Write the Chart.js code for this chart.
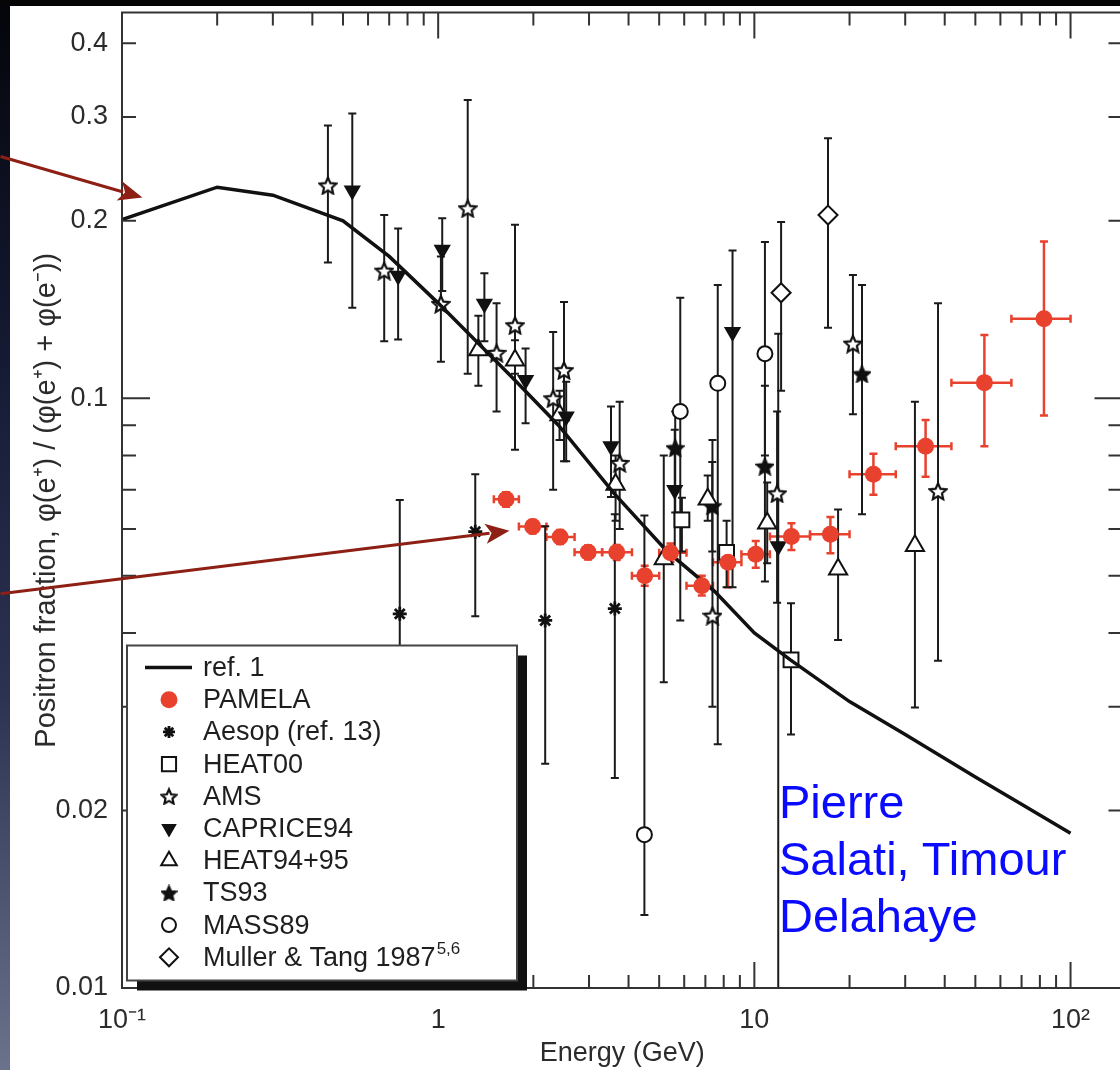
<!DOCTYPE html>
<html>
<head>
<meta charset="utf-8">
<script src="https://cdn.jsdelivr.net/npm/chart.js@4.4.1/dist/chart.umd.min.js"></script>
<style>
html, body { margin: 0; padding: 0; overflow: hidden; background: #fff; }
#wrap { position: relative; width: 1135px; height: 1070px; }
#names { position: absolute; left: 779px; top: 773px; font: 47px "Liberation Sans", Arial, sans-serif; line-height: 57px; color: #0a0aff; }
</style>
</head>
<body>
<div id="wrap">
  <canvas id="positron" width="1135" height="1070"></canvas>
  <div id="names">Pierre<br>Salati, Timour<br>Delahaye</div>
</div>
<script>
// model curve (ref. 1)
const refE = [0.1, 0.2, 0.3, 0.5, 0.7, 1.0, 1.7, 2.4, 3.6, 5.3, 7.5, 10, 13, 20, 30, 50, 70, 100];
const refF = [0.201, 0.228, 0.221, 0.200, 0.174, 0.145, 0.109, 0.090, 0.069, 0.055, 0.047, 0.040, 0.036, 0.0306, 0.0269, 0.0228, 0.0205, 0.0183];

// PAMELA
const pamE = [1.64, 1.99, 2.43, 2.98, 3.67, 4.50, 5.43, 6.82, 8.26, 10.1, 13.1, 17.4, 23.8, 34.8, 53.4, 82.4];
const pamF = [0.0674, 0.0606, 0.0582, 0.0548, 0.0548, 0.0500, 0.0547, 0.0481, 0.0527, 0.0544, 0.0583, 0.0588, 0.0743, 0.0829, 0.1063, 0.1364];
const pamELo = [1.5, 1.8, 2.2, 2.7, 3.3, 4.1, 5.0, 6.1, 7.4, 9.1, 11.2, 15, 20, 28, 42, 65];
const pamEHi = [1.8, 2.2, 2.7, 3.3, 4.1, 5.0, 6.1, 7.4, 9.1, 11.2, 15, 20, 28, 42, 65, 100];
const pamFLo = [0.0655, 0.0590, 0.0566, 0.0533, 0.0532, 0.0481, 0.0528, 0.0463, 0.0478, 0.0516, 0.0553, 0.0546, 0.0686, 0.0736, 0.0829, 0.0935];
const pamFHi = [0.0693, 0.0622, 0.0598, 0.0563, 0.0564, 0.0520, 0.0567, 0.0500, 0.0555, 0.0573, 0.0614, 0.0629, 0.0805, 0.0919, 0.1280, 0.1845];

// Aesop (ref. 13)
const aesE = [0.756, 1.31, 2.18, 3.62];
const aesF = [0.0431, 0.0594, 0.0420, 0.0440];
const aesLo = [0.025, 0.0427, 0.024, 0.0227];
const aesHi = [0.0672, 0.0743, 0.0607, 0.0636];

// HEAT00
const h00E = [5.9, 8.17, 13.06];
const h00F = [0.0622, 0.0548, 0.0360];
const h00Lo = [0.055, 0.0478, 0.0269];
const h00Hi = [0.0678, 0.062, 0.0449];

// AMS
const amsE = [0.448, 0.675, 1.02, 1.24, 1.53, 1.75, 2.31, 2.50, 3.75, 7.37, 11.8, 20.5, 38.1];
const amsF = [0.2296, 0.1646, 0.1446, 0.210, 0.1194, 0.133, 0.100, 0.1116, 0.0777, 0.0428, 0.069, 0.1238, 0.0696];
const amsLo = [0.170, 0.125, 0.1153, 0.110, 0.095, 0.110, 0.070, 0.0782, 0.060, 0.030, 0.045, 0.094, 0.0359];
const amsHi = [0.290, 0.2045, 0.174, 0.3206, 0.1449, 0.197, 0.1296, 0.1456, 0.0987, 0.085, 0.095, 0.1618, 0.1449];

// CAPRICE94
const capE = [0.535, 0.747, 1.03, 1.40, 1.89, 2.54, 3.52, 5.60, 8.53, 11.9];
const capF = [0.225, 0.1614, 0.1786, 0.1446, 0.1074, 0.0931, 0.0829, 0.0699, 0.1296, 0.0561];
const capLo = [0.1424, 0.1258, 0.152, 0.125, 0.0907, 0.0782, 0.068, 0.055, 0.0478, 0.005];
const capHi = [0.304, 0.194, 0.202, 0.163, 0.1215, 0.1067, 0.0968, 0.0884, 0.178, 0.1287];

// HEAT94+95
const h95E = [1.34, 1.75, 2.42, 3.64, 5.17, 7.12, 10.98, 18.4, 32.2];
const h95F = [0.1207, 0.116, 0.0937, 0.0714, 0.0534, 0.0674, 0.0614, 0.0513, 0.0562];
const h95Lo = [0.105, 0.0818, 0.085, 0.062, 0.033, 0.062, 0.0525, 0.0389, 0.0299];
const h95Hi = [0.138, 0.1254, 0.103, 0.080, 0.080, 0.074, 0.072, 0.0648, 0.0987];

// TS93
const tsE = [5.62, 7.36, 10.8, 21.9];
const tsF = [0.0824, 0.0657, 0.0767, 0.110];
const tsLo = [0.064, 0.055, 0.0489, 0.0636];
const tsHi = [0.095, 0.078, 0.105, 0.1557];

// MASS89
const masE = [4.49, 5.83, 7.66, 10.8];
const masF = [0.0182, 0.095, 0.106, 0.119];
const masLo = [0.0133, 0.042, 0.0259, 0.080];
const masHi = [0.0633, 0.148, 0.1557, 0.184];

// Muller & Tang 1987
const mulE = [12.15, 17.1];
const mulF = [0.151, 0.2045];
const mulLo = [0.103, 0.1317];
const mulHi = [0.199, 0.276];

const xTickVals = [0.1, 1, 10, 100];
const xTickLabels = ['10\u207B\u00B9', '1', '10', '10\u00B2'];
const yTickVals = [0.01, 0.02, 0.1, 0.2, 0.3, 0.4];
const yTickLabels = ['0.01', '0.02', '0.1', '0.2', '0.3', '0.4'];

// slide arrows: [tailE, tailF] -> [tipE, tipF]
const arrowTails = [[0.0413, 0.257], [0.0413, 0.0466]];
const arrowTips = [[0.116, 0.219], [1.68, 0.0596]];

const FONT = '"Liberation Sans", Arial, Helvetica, sans-serif';
const INK = '#2b2b2b';
const RED = '#e8412d';

function starImage(size, filled) {
    const c = document.createElement('canvas');
    c.width = c.height = size;
    const g = c.getContext('2d');
    const m = size / 2, R = size / 2 - 1.2, r = R * 0.47;
    g.beginPath();
    for (let i = 0; i < 10; i++) {
        const a = -Math.PI / 2 + i * Math.PI / 5;
        const rr = i % 2 ? r : R;
        g.lineTo(m + rr * Math.cos(a), m + rr * Math.sin(a) + 1);
    }
    g.closePath();
    g.fillStyle = filled ? '#111' : '#fff';
    g.fill();
    g.lineWidth = 2.2;
    g.strokeStyle = '#111';
    g.stroke();
    return c;
}

function pts(E, F, lo, hi) {
    return E.map((e, i) => ({ x: e, y: F[i], yMin: lo[i], yMax: hi[i] }));
}

function markers(label, data, style, more) {
    return Object.assign({
        label: label,
        data: data,
        pointStyle: style,
        pointRadius: 7,
        borderColor: '#111',
        backgroundColor: '#fff',
        borderWidth: 2,
        errColor: '#1a1a1a',
        order: 2
    }, more || {});
}

const datasets = [
    {
        label: 'ref. 1',
        data: refE.map((e, i) => ({ x: e, y: refF[i] })),
        showLine: true,
        borderColor: '#111',
        borderWidth: 3.5,
        pointRadius: 0,
        tension: 0,
        order: 1
    },
    {
        label: 'PAMELA',
        data: pamE.map((e, i) => ({ x: e, y: pamF[i], xMin: pamELo[i], xMax: pamEHi[i], yMin: pamFLo[i], yMax: pamFHi[i] })),
        pointStyle: 'circle',
        pointRadius: 8.5,
        backgroundColor: RED,
        borderColor: RED,
        borderWidth: 0,
        errColor: RED,
        errWidth: 2.5,
        legendRadius: 8.5,
        order: 0
    },
    markers('Aesop (ref. 13)', pts(aesE, aesF, aesLo, aesHi), 'star', { pointRadius: 7, borderWidth: 2.8, legendRadius: 6 }),
    markers('HEAT00', pts(h00E, h00F, h00Lo, h00Hi), 'rect', { pointRadius: 10.5, legendRadius: 10 }),
    markers('AMS', pts(amsE, amsF, amsLo, amsHi), starImage(20, false), { legendStyle: starImage(18, false) }),
    markers('CAPRICE94', pts(capE, capF, capLo, capHi), 'triangle', { pointRadius: 8, pointRotation: 180, backgroundColor: '#111', legendRadius: 7 }),
    markers('HEAT94+95', pts(h95E, h95F, h95Lo, h95Hi), 'triangle', { pointRadius: 10.5, legendRadius: 9 }),
    markers('TS93', pts(tsE, tsF, tsLo, tsHi), starImage(19, true), { legendStyle: starImage(17, true) }),
    markers('MASS89', pts(masE, masF, masLo, masHi), 'circle', { pointRadius: 7.5, legendRadius: 7 }),
    markers('Muller & Tang 1987', pts(mulE, mulF, mulLo, mulHi), 'rectRot', { pointRadius: 9.5, legendRadius: 9, sup: '5,6' })
];

// white page, dark slide edges
const slideEdges = {
    id: 'slideEdges',
    beforeDraw(chart) {
        const ctx = chart.ctx;
        ctx.save();
        ctx.fillStyle = '#fff';
        ctx.fillRect(0, 0, chart.width, chart.height);
        const g = ctx.createLinearGradient(0, 0, 0, chart.height);
        g.addColorStop(0, '#04050a');
        g.addColorStop(0.35, '#161b36');
        g.addColorStop(0.65, '#2c3352');
        g.addColorStop(1, '#6b728c');
        ctx.fillStyle = g;
        ctx.fillRect(0, 0, 10, chart.height);
        ctx.fillStyle = '#050505';
        ctx.fillRect(0, 0, chart.width, 6);
        ctx.restore();
    }
};

const errorBars = {
    id: 'errorBars',
    beforeDatasetsDraw(chart) {
        const { ctx, chartArea: a, scales: { x, y } } = chart;
        ctx.save();
        ctx.beginPath();
        ctx.rect(a.left, a.top, a.right - a.left, a.bottom - a.top);
        ctx.clip();
        chart.data.datasets.forEach(ds => {
            if (!ds.errColor) return;
            ctx.strokeStyle = ds.errColor;
            ctx.lineWidth = ds.errWidth || 2;
            ds.data.forEach(p => {
                const px = x.getPixelForValue(p.x), py = y.getPixelForValue(p.y);
                ctx.beginPath();
                if (p.yMin != null) {
                    const y1 = y.getPixelForValue(p.yMin), y2 = y.getPixelForValue(p.yMax);
                    ctx.moveTo(px, y1); ctx.lineTo(px, y2);
                    ctx.moveTo(px - 4, y1); ctx.lineTo(px + 4, y1);
                    ctx.moveTo(px - 4, y2); ctx.lineTo(px + 4, y2);
                }
                if (p.xMin != null) {
                    const x1 = x.getPixelForValue(p.xMin), x2 = x.getPixelForValue(p.xMax);
                    ctx.moveTo(x1, py); ctx.lineTo(x2, py);
                    ctx.moveTo(x1, py - 4); ctx.lineTo(x1, py + 4);
                    ctx.moveTo(x2, py - 4); ctx.lineTo(x2, py + 4);
                }
                ctx.stroke();
            });
        });
        ctx.restore();
    }
};

// box with inward ticks on all four sides
const frame = {
    id: 'frame',
    afterDatasetsDraw(chart) {
        const { ctx, chartArea: a, scales: { x, y } } = chart;
        ctx.save();
        ctx.strokeStyle = '#333';
        ctx.lineWidth = 2;
        ctx.strokeRect(a.left, a.top, a.right - a.left, a.bottom - a.top);
        ctx.beginPath();
        for (let k = -1; k <= 2; k++) {
            for (let m = 1; m <= 9; m++) {
                const v = m * Math.pow(10, k);
                if (v < x.min || v > x.max) continue;
                const px = x.getPixelForValue(v);
                const len = m === 1 ? 26 : 13;
                ctx.moveTo(px, a.bottom); ctx.lineTo(px, a.bottom - len);
                ctx.moveTo(px, a.top); ctx.lineTo(px, a.top + len);
            }
        }
        [0.02, 0.03, 0.04, 0.05, 0.06, 0.07, 0.08, 0.09, 0.1, 0.2, 0.3, 0.4].forEach(v => {
            const py = y.getPixelForValue(v);
            const len = v === 0.1 ? 28 : 14;
            ctx.moveTo(a.left, py); ctx.lineTo(a.left + len, py);
            ctx.moveTo(a.right, py); ctx.lineTo(a.right - len, py);
        });
        ctx.stroke();
        ctx.restore();
    }
};

const boxLegend = {
    id: 'boxLegend',
    afterDraw(chart) {
        const { ctx, chartArea: a } = chart;
        const L = a.left + 5, T = a.top + 633, W = 390, H = 335;
        ctx.save();
        ctx.fillStyle = '#111';
        ctx.fillRect(L + 10, T + 10, W, H);
        ctx.fillStyle = '#fff';
        ctx.fillRect(L, T, W, H);
        ctx.strokeStyle = '#444';
        ctx.lineWidth = 2;
        ctx.strokeRect(L, T, W, H);
        const sx = L + 42, tx = L + 76;
        chart.data.datasets.forEach((ds, i) => {
            const cy = T + 22 + i * 32.2;
            if (ds.showLine) {
                ctx.strokeStyle = '#111';
                ctx.lineWidth = 3.5;
                ctx.beginPath(); ctx.moveTo(sx - 24, cy); ctx.lineTo(sx + 23, cy); ctx.stroke();
            } else {
                ctx.fillStyle = ds.backgroundColor;
                ctx.strokeStyle = ds.borderColor;
                ctx.lineWidth = ds.borderWidth;
                Chart.helpers.drawPoint(ctx, {
                    pointStyle: ds.legendStyle || ds.pointStyle,
                    radius: ds.legendRadius || 6,
                    rotation: ds.pointRotation || 0,
                    borderWidth: ds.borderWidth
                }, sx, cy);
            }
            ctx.fillStyle = '#1e1e1e';
            ctx.font = '27px ' + FONT;
            ctx.textBaseline = 'middle';
            ctx.fillText(ds.label, tx, cy + 1);
            if (ds.sup) {
                const w = ctx.measureText(ds.label).width;
                ctx.font = '17px ' + FONT;
                ctx.fillText(ds.sup, tx + w + 1, cy - 8);
            }
        });
        ctx.restore();
    }
};

const slideArrows = {
    id: 'slideArrows',
    afterDraw(chart) {
        const { ctx, scales: { x, y } } = chart;
        ctx.save();
        ctx.strokeStyle = '#8e1f14';
        ctx.fillStyle = '#8e1f14';
        ctx.lineWidth = 3;
        arrowTails.forEach((t, i) => {
            const x0 = x.getPixelForValue(t[0]), y0 = y.getPixelForValue(t[1]);
            const x1 = x.getPixelForValue(arrowTips[i][0]), y1 = y.getPixelForValue(arrowTips[i][1]);
            const ang = Math.atan2(y1 - y0, x1 - x0);
            const hl = 24, hw = 10;
            const bx = x1 - hl * Math.cos(ang), by = y1 - hl * Math.sin(ang);
            ctx.beginPath(); ctx.moveTo(x0, y0); ctx.lineTo(bx + 4 * Math.cos(ang), by + 4 * Math.sin(ang)); ctx.stroke();
            ctx.beginPath();
            ctx.moveTo(x1, y1);
            ctx.lineTo(bx - hw * Math.sin(ang), by + hw * Math.cos(ang));
            ctx.lineTo(bx + 6 * Math.cos(ang), by + 6 * Math.sin(ang));
            ctx.lineTo(bx + hw * Math.sin(ang), by - hw * Math.cos(ang));
            ctx.closePath();
            ctx.fill();
        });
        ctx.restore();
    }
};

new Chart(document.getElementById('positron'), {
    type: 'scatter',
    data: { datasets: datasets },
    plugins: [slideEdges, errorBars, frame, boxLegend, slideArrows],
    options: {
        responsive: false,
        animation: false,
        layout: { padding: { left: 0, top: 7, right: 4, bottom: 0 } },
        plugins: { legend: { display: false }, tooltip: { enabled: false } },
        scales: {
            x: {
                type: 'logarithmic',
                min: 0.1,
                max: 146,
                afterBuildTicks: s => { s.ticks = xTickVals.map(v => ({ value: v })); },
                afterFit: s => { s.height = 82; s.paddingLeft = 0; s.paddingRight = 0; },
                grid: { display: false, drawTicks: false },
                border: { display: false },
                ticks: {
                    padding: 16,
                    autoSkip: false,
                    maxRotation: 0,
                    color: INK,
                    font: { family: FONT, size: 27 },
                    callback: (v, i) => xTickLabels[i]
                },
                title: { display: true, text: 'Energy (GeV)', color: INK, font: { family: FONT, size: 27 }, padding: 0 }
            },
            y: {
                type: 'logarithmic',
                min: 0.01,
                max: 0.451,
                afterBuildTicks: s => { s.ticks = yTickVals.map(v => ({ value: v })); },
                afterFit: s => { s.width = 122; s.paddingTop = 0; s.paddingBottom = 0; },
                grid: { display: false, drawTicks: false },
                border: { display: false },
                ticks: {
                    padding: 14,
                    autoSkip: false,
                    color: INK,
                    font: { family: FONT, size: 27 },
                    callback: (v, i) => yTickLabels[i]
                },
                title: {
                    display: true,
                    text: 'Positron fraction, \u03C6(e\u207A) / (\u03C6(e\u207A) + \u03C6(e\u207B))',
                    color: INK,
                    font: { family: FONT, size: 29 },
                    padding: 30
                }
            }
        }
    }
});
</script>
</body>
</html>
